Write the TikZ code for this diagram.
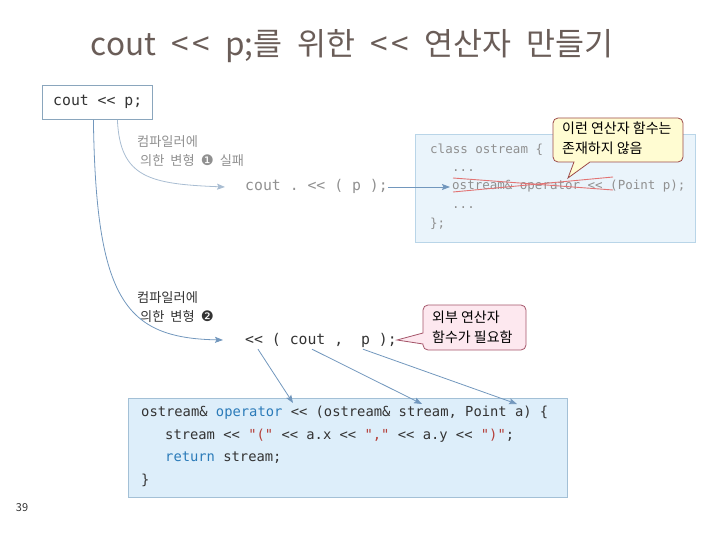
\documentclass[tikz,border=0pt]{standalone}
\usepackage{fontspec}
\setmainfont{Noto Sans CJK KR}
\setmonofont{DejaVu Sans Mono}[Ligatures=TeXOff]
\newfontfamily\dingfont{DejaVu Sans}
\usetikzlibrary{arrows.meta}
\definecolor{titlec}{HTML}{6A5D58}
\definecolor{boxline}{HTML}{8AA6BD}
\definecolor{arrc}{HTML}{7297BD}
\definecolor{lightarr}{HTML}{A9BDD2}
\definecolor{graytxt}{HTML}{909090}
\definecolor{clsfill}{HTML}{EAF4FB}
\definecolor{clsline}{HTML}{B9D5E8}
\definecolor{botfill}{HTML}{DDEEFA}
\definecolor{botline}{HTML}{A3C0D6}
\definecolor{yelfill}{HTML}{FFFCD2}
\definecolor{yelline}{HTML}{9C4A4A}
\definecolor{pinkfill}{HTML}{FDE8EF}
\definecolor{pinkline}{HTML}{A5566A}
\definecolor{strike}{HTML}{E27373}
\definecolor{kw}{HTML}{2B7BB9}
\definecolor{str}{HTML}{B5403A}
\definecolor{darktxt}{HTML}{333333}
\newcommand{\tsp}{\hspace{15pt}}
\newcommand{\nsp}{\hspace{6pt}}
\tikzset{
  codetxt/.style={font=\ttfamily\fontsize{13.8}{16}\selectfont, text=darktxt, anchor=west, inner sep=0pt, text height=10pt, text depth=3pt},
  clstxt/.style={font=\ttfamily\fontsize{12.5}{15}\selectfont, text=graytxt, anchor=west, inner sep=0pt, text height=9pt, text depth=3pt},
  bigcode/.style={font=\ttfamily\fontsize{14.8}{17}\selectfont, anchor=west, inner sep=0pt, text height=11pt, text depth=3pt},
  note/.style={font=\fontsize{13.2}{19.5}\selectfont, align=left, anchor=north west, inner sep=0pt},
  callt/.style={font=\fontsize{14}{19.5}\selectfont, align=left, text=black, inner sep=0pt},
  arr/.style={draw=arrc, line width=0.8pt, -{Stealth[length=8pt,width=6pt,inset=1.5pt]}},
  larr/.style={draw=lightarr, line width=0.8pt, -{Stealth[length=8pt,width=6pt,inset=1.5pt]}}
}
\begin{document}
\begin{tikzpicture}[x=1pt,y=-1pt]
\useasboundingbox (0,0) rectangle (720,540);
% title
\node[font=\fontsize{31.5}{34}\selectfont, text=titlec, inner sep=0pt] (title) at (352,46) {cout\tsp<\hspace{4pt}<\tsp p;를\tsp 위한\tsp<\hspace{4pt}<\tsp 연산자\tsp 만들기};
% source box
\node[draw=boxline, fill=white, line width=0.8pt, minimum width=110pt, minimum height=34pt, inner sep=0pt, anchor=north west] (src) at (42,85) {};
\node[bigcode, text=darktxt] (srct) at (53,102) {cout << p;};
% annotation 1
\node[note, text=graytxt] (n1) at (137,135) {컴파일러에\\\hspace{3pt}의한\nsp 변형\nsp{\dingfont\fontsize{14.5}{16}\selectfont ❶}\nsp 실패};
\node[bigcode, text=graytxt] (t1) at (245,187) {cout . << ( p );};
% class box
\node[draw=clsline, fill=clsfill, line width=0.8pt, minimum width=280pt, minimum height=108pt, inner sep=0pt, anchor=north west] (cls) at (415,134) {};
\node[clstxt] (c1) at (430,151) {class ostream \{};
\node[clstxt] (c2) at (452,169) {...};
\node[clstxt] (c3) at (452,187) {ostream\& operator << (Point p);};
\node[clstxt] (c4) at (452,205) {...};
\node[clstxt] (c5) at (430,224) {\};};
\coordinate (sa1) at (453,178); \coordinate (sa2) at (613,190);
\coordinate (sb1) at (453,192); \coordinate (sb2) at (613,177);
\draw[strike, line width=0.9pt] (sa1) -- (sa2);
\draw[strike, line width=0.9pt] (sb1) -- (sb2);
% yellow callout
\draw[draw=yelline, fill=yelfill, line width=0.8pt] (574,162) [rounded corners=5pt] -- (553,162) -- (553,118) -- (683,118) -- (683,162) [sharp corners] -- (590,162) -- (568,178) -- cycle;
\node[callt, anchor=north west] (y1) at (562,122) {이런 연산자 함수는\\존재하지 않음};
% annotation 2
\node[note, text=darktxt] (n2) at (137,291) {컴파일러에\\\hspace{3pt}의한\nsp 변형\nsp{\dingfont\fontsize{14.5}{16}\selectfont ❷}};
\node[bigcode, text=darktxt] (t2) at (245,340) {<< ( cout ,\ \ p );};
% pink callout
\draw[draw=pinkline, fill=pinkfill, line width=0.8pt] (423,333) [rounded corners=5pt] -- (423,305) -- (526,305) -- (526,350) -- (423,350) [sharp corners] -- (423,344) -- (397,340) -- cycle;
\node[callt, anchor=north west] (p1) at (432,311) {외부 연산자\\함수가 필요함};
% bottom code box
\node[draw=botline, fill=botfill, line width=0.8pt, minimum width=439pt, minimum height=99pt, inner sep=0pt, anchor=north west] (bot) at (128,398) {};
\node[codetxt] (b1) at (141,413) {ostream\& {\color{kw}operator} << (ostream\& stream, Point a) \{};
\node[codetxt] (b2) at (165,436) {stream << {\color{str}"("} << a.x << {\color{str}","} << a.y << {\color{str}")"};};
\node[codetxt] (b3) at (165,458) {{\color{kw}return} stream;};
\node[codetxt] (b4) at (141,481) {\}};
% page number
\node[font=\fontsize{11}{12}\selectfont, text=darktxt, inner sep=0pt] (pg) at (22,508) {39};
% connectors
\draw[larr] ([xshift=20pt]src.south) .. controls (120,178) and (150,184) .. ([xshift=-20pt]t1.west);
\draw[arr] ([xshift=-4pt]src.south) .. controls (96,300) and (125,338) .. ([xshift=-22pt]t2.west);
\draw[arr] (t1.east) -- ([xshift=-2pt]c3.west);
\draw[arr] ([xshift=13pt,yshift=-2pt]t2.south west) -- ([xshift=165pt,yshift=-5pt]bot.north west);
\draw[arr] ([xshift=67pt,yshift=-2pt]t2.south west) -- ([xshift=294pt,yshift=-6pt]bot.north west);
\draw[arr] ([xshift=118pt,yshift=-2pt]t2.south west) -- ([xshift=389pt,yshift=-6pt]bot.north west);
\end{tikzpicture}
\end{document}
